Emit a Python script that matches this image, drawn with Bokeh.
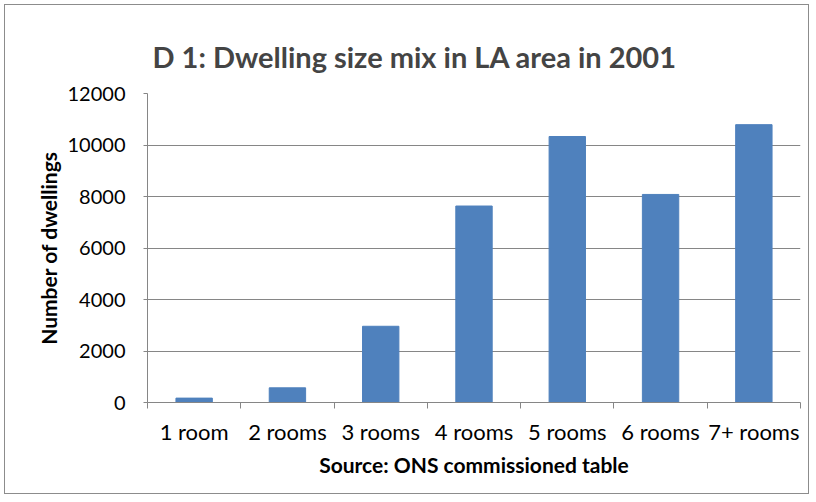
from bokeh.plotting import figure
from bokeh.models import FixedTicker, Range1d, ColumnDataSource
from bokeh.embed import file_html
from bokeh.resources import INLINE

categories = ["1 room", "2 rooms", "3 rooms", "4 rooms", "5 rooms", "6 rooms", "7+ rooms"]
dwellings = [170, 570, 2960, 7630, 10330, 8080, 10790]
y_ticks = [0, 2000, 4000, 6000, 8000, 10000, 12000]

title_text = "D 1: Dwelling size mix in LA area in 2001"
x_label = "Source: ONS commissioned table"
y_label = "Number of dwellings"

FONT = "Lato"
GRID = "#868686"

n = len(categories)
xpos = list(range(1, n + 1))
src = ColumnDataSource(dict(x=xpos, top=dwellings, cat=categories))

p = figure(width=805, height=490, output_backend="svg", toolbar_location=None,
           x_range=Range1d(0.5, n + 0.5), y_range=Range1d(y_ticks[0], y_ticks[-1]),
           min_border_left=142, min_border_right=10, min_border_top=88, min_border_bottom=93)

p.vbar(x="x", top="top", width=0.39, source=src, fill_color="#4F81BD", line_color="#4F81BD")

p.title.text = title_text
p.title.text_font = FONT
p.title.text_font_size = "29px"
p.title.text_font_style = "bold"
p.title.align = "left"
p.title.offset = 5
p.title.standoff = 39

p.outline_line_color = None
p.background_fill_color = "white"
p.border_fill_color = "white"
p.styles = {"border": "1px solid #8c8c8c", "margin-left": "4px", "margin-top": "4px"}

p.xgrid.grid_line_color = None
p.ygrid.grid_line_color = GRID
p.ygrid.grid_line_width = 1

# x axis: labels at category centres, ticks at boundaries
xa = p.xaxis[0]
xa.ticker = FixedTicker(ticks=xpos, minor_ticks=[v - 0.5 for v in xpos] + [n + 0.5])
xa.major_label_overrides = {v: c for v, c in zip(xpos, categories)}
xa.major_tick_in = 0
xa.major_tick_out = 0
xa.minor_tick_in = 0
xa.minor_tick_out = 6
xa.minor_tick_line_color = GRID
xa.axis_line_color = GRID
xa.major_label_text_font = FONT
xa.major_label_text_font_size = "22px"
xa.major_label_text_color = "black"
xa.major_label_standoff = 9
xa.axis_label = x_label
xa.axis_label_text_font = FONT
xa.axis_label_text_font_size = "21px"
xa.axis_label_text_font_style = "bold"
xa.axis_label_text_color = "black"
xa.axis_label_standoff = 4

ya = p.yaxis[0]
ya.ticker = FixedTicker(ticks=y_ticks)
ya.minor_tick_line_color = None
ya.major_tick_in = 0
ya.major_tick_out = 4
ya.major_tick_line_color = GRID
ya.axis_line_color = GRID
ya.major_label_text_font = FONT
ya.major_label_text_font_size = "20px"
ya.major_label_text_color = "black"
ya.major_label_standoff = 18
ya.axis_label = y_label
ya.axis_label_text_font = FONT
ya.axis_label_text_font_size = "21px"
ya.axis_label_text_font_style = "bold"
ya.axis_label_text_color = "black"
ya.axis_label_standoff = 4

open("out.html", "w").write(file_html(p, INLINE))
